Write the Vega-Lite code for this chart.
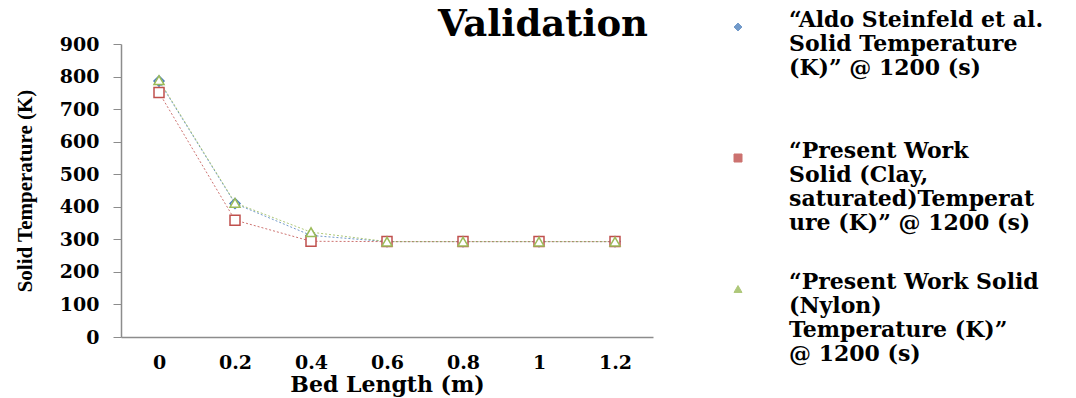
{
  "$schema": "https://vega.github.io/schema/vega-lite/v6.json",
  "width": 532,
  "height": 293,
  "autosize": {"type": "none"},
  "padding": {"left": 121, "top": 44, "right": 423, "bottom": 61},
  "background": "white",
  "title": {
    "text": "Validation",
    "anchor": "end",
    "frame": "group",
    "font": "DejaVu Serif",
    "fontSize": 37,
    "fontWeight": "bold",
    "color": "#000000",
    "baseline": "alphabetic",
    "offset": 0,
    "dx": -5,
    "dy": 57
  },
  "config": {
    "view": {"stroke": null},
    "font": "DejaVu Serif"
  },
  "data": {
    "values": [
      {"x": "0", "series": "Aldo", "T": 786},
      {"x": "0.2", "series": "Aldo", "T": 410},
      {"x": "0.4", "series": "Aldo", "T": 312},
      {"x": "0.6", "series": "Aldo", "T": 293},
      {"x": "0.8", "series": "Aldo", "T": 293},
      {"x": "1", "series": "Aldo", "T": 293},
      {"x": "1.2", "series": "Aldo", "T": 293},
      {"x": "0", "series": "Clay", "T": 751},
      {"x": "0.2", "series": "Clay", "T": 359},
      {"x": "0.4", "series": "Clay", "T": 294},
      {"x": "0.6", "series": "Clay", "T": 293},
      {"x": "0.8", "series": "Clay", "T": 293},
      {"x": "1", "series": "Clay", "T": 293},
      {"x": "1.2", "series": "Clay", "T": 293},
      {"x": "0", "series": "Nylon", "T": 789},
      {"x": "0.2", "series": "Nylon", "T": 412},
      {"x": "0.4", "series": "Nylon", "T": 322},
      {"x": "0.6", "series": "Nylon", "T": 293},
      {"x": "0.8", "series": "Nylon", "T": 293},
      {"x": "1", "series": "Nylon", "T": 293},
      {"x": "1.2", "series": "Nylon", "T": 293}
    ]
  },
  "encoding": {
    "x": {
      "field": "x",
      "type": "ordinal",
      "sort": ["0", "0.2", "0.4", "0.6", "0.8", "1", "1.2"],
      "scale": {"type": "point", "padding": 0.5},
      "axis": {
        "title": "Bed Length (m)",
        "labelAngle": 0,
        "labelFont": "DejaVu Serif",
        "labelFontSize": 19,
        "labelFontWeight": "bold",
        "labelColor": "#000000",
        "labelPadding": 16,
        "titleFont": "DejaVu Serif",
        "titleFontSize": 22,
        "titleFontWeight": "bold",
        "titleColor": "#000000",
        "titlePadding": 2,
        "ticks": false,
        "domainColor": "#8c8c8c",
        "domainWidth": 1.5,
        "grid": false
      }
    },
    "y": {
      "field": "T",
      "type": "quantitative",
      "scale": {"domain": [0, 900], "nice": false},
      "axis": {
        "title": "Solid Temperature (K)",
        "values": [0, 100, 200, 300, 400, 500, 600, 700, 800, 900],
        "labelFont": "DejaVu Serif",
        "labelFontSize": 19,
        "labelFontWeight": "bold",
        "labelColor": "#000000",
        "labelPadding": 14,
        "titleFont": "Liberation Serif",
        "titleFontSize": 21,
        "titleFontWeight": "bold",
        "titleColor": "#000000",
        "titlePadding": 24,
        "tickColor": "#8c8c8c",
        "tickSize": 8,
        "domainColor": "#8c8c8c",
        "domainWidth": 1.5,
        "grid": false
      }
    },
    "color": {
      "field": "series",
      "type": "nominal",
      "scale": {"domain": ["Aldo", "Clay", "Nylon"], "range": ["#4F81BD", "#C0504D", "#9BBB59"]},
      "legend": {
        "title": null,
        "orient": "none",
        "legendX": 606,
        "legendY": -28,
        "padding": 0,
        "labelExpr": "datum.label == 'Aldo' ? ['“Aldo Steinfeld et al.', 'Solid Temperature', '(K)” @ 1200 (s)', ''] : datum.label == 'Clay' ? ['“Present Work', 'Solid (Clay,', 'saturated)Temperat', 'ure (K)” @ 1200 (s)'] : ['“Present Work Solid', '(Nylon)', 'Temperature (K)”', '@ 1200 (s)']",
        "labelFont": "DejaVu Serif",
        "labelFontSize": 22,
        "labelFontWeight": "bold",
        "labelColor": "#000000",
        "labelLimit": 400,
        "labelOffset": 40,
        "labelBaseline": "alphabetic",
        "rowPadding": 37,
        "symbolSize": 64,
        "symbolStrokeWidth": 1,
        "symbolFillColor": "white"
      }
    },
    "shape": {
      "field": "series",
      "type": "nominal",
      "scale": {"domain": ["Aldo", "Clay", "Nylon"], "range": ["diamond", "square", "triangle-up"]},
      "legend": null
    }
  },
  "layer": [
    {
      "mark": {"type": "line", "strokeWidth": 1, "strokeDash": [2, 2], "opacity": 0.8},
      "encoding": {"shape": {"value": "circle"}}
    },
    {
      "mark": {"type": "point", "filled": false, "size": 100, "strokeWidth": 1.5, "fill": "white", "fillOpacity": 1}
    }
  ]
}
